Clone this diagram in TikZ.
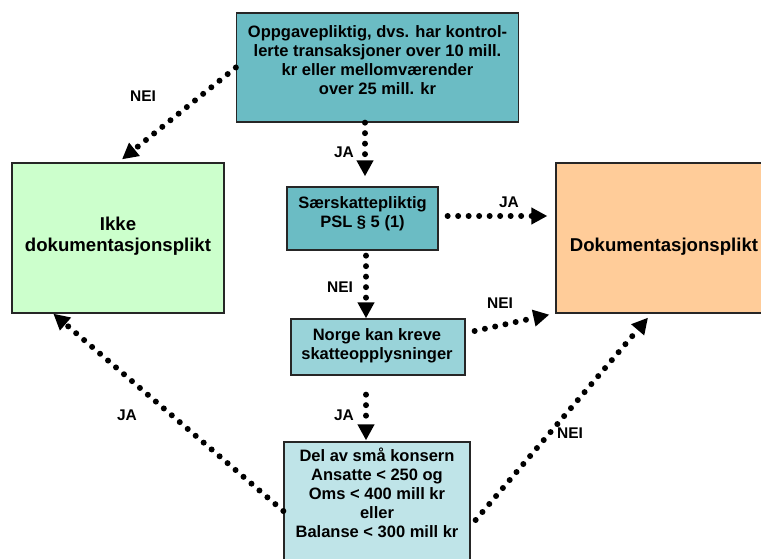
\documentclass[tikz,border=0pt]{standalone}
\usepackage{fontspec}
\setmainfont{Liberation Sans}
\usetikzlibrary{arrows.meta,calc}
\definecolor{tealA}{RGB}{107,188,196}
\definecolor{tealB}{RGB}{153,211,217}
\definecolor{tealC}{RGB}{191,228,232}
\definecolor{greenA}{RGB}{204,255,204}
\definecolor{orangeA}{RGB}{255,204,153}
\tikzset{
  box/.style={draw=black!85, line width=1.3pt, inner sep=0pt},
  txt/.style={font=\bfseries\fontsize{16.5}{19}\selectfont, align=center, inner sep=0pt},
  bigtxt/.style={font=\bfseries\fontsize{18.6}{21.5}\selectfont, align=center, inner sep=0pt},
  lbl/.style={font=\bfseries\fontsize{15.5}{17}\selectfont, inner sep=0pt},
  flow/.style={line width=6pt, line cap=round, dash pattern=on 0pt off 10.5pt,
    -{Triangle[length=16pt,width=16pt]}},
}
\begin{document}
\begin{tikzpicture}[x=1pt,y=-1pt]
\useasboundingbox (0,0) rectangle (761,559);
\clip (0,0) rectangle (761,559);
% boxes
\node[box, fill=tealA, minimum width=282pt, minimum height=109pt] (top) at (377.5,67.5) {};
\node[box, fill=greenA, minimum width=212pt, minimum height=150pt] (ikke) at (118,238) {};
\node[box, fill=orangeA, minimum width=216pt, minimum height=150pt] (dok) at (664,238) {};
\node[box, fill=tealA, minimum width=151pt, minimum height=63pt] (saer) at (362.5,218.5) {};
\node[box, fill=tealB, minimum width=174pt, minimum height=56pt] (norge) at (378,347) {};
\node[box, fill=tealC, minimum width=186pt, minimum height=130pt] (del) at (377,507) {};
% texts
\node[txt] (toptxt) at (377.5,60) {Oppgavepliktig, dvs. har kontrol-\\lerte transaksjoner over 10 mill.\\kr eller mellomværender\\over 25 mill. kr};
\node[bigtxt] (ikketxt) at (118,236) {Ikke\\dokumentasjonsplikt};
\node[bigtxt] (doktxt) at (664,247) {Dokumentasjonsplikt};
\node[txt] (saertxt) at (362.5,214) {Særskattepliktig\\PSL § 5 (1)};
\node[txt] (norgetxt) at (377,346) {Norge kan kreve\\skatteopplysninger};
\node[txt, anchor=north] (deltxt) at (377,448) {Del av små konsern\\Ansatte < 250 og\\Oms < 400 mill kr\\eller\\Balanse < 300 mill kr};
% connectors
\draw[flow] (top.west) -- ($(ikke.north)+(4,-3)$);
\draw[flow] ($(top.south)+(-12.5,0)$) -- ($(saer.north)+(2.5,-10)$);
\draw[flow] ($(saer.east)+(9,-2.5)$) -- ($(dok.west)+(-8,-22)$);
\draw[flow] ($(saer.south)+(3.5,5)$) -- ($(norge.north)+(-12,0)$);
\draw[flow] ($(norge.east)+(9,-16)$) -- ($(dok.south west)+(-6,1)$);
\draw[flow] ($(norge.south)+(-12,19)$) -- ($(del.north)+(-11,-1)$);
\draw[flow] ($(del.west)+(0,4)$) -- ($(ikke.south west)+(42,0)$);
\draw[flow] ($(del.east)+(5,13)$) -- ($(dok.south)+(-16,4)$);
% labels
\node[lbl] (l1) at (143,96) {NEI};
\node[lbl] (l2) at (344,152) {JA};
\node[lbl] (l3) at (509,202) {JA};
\node[lbl] (l4) at (340,287) {NEI};
\node[lbl] (l5) at (500,303) {NEI};
\node[lbl] (l6) at (344,415) {JA};
\node[lbl] (l7) at (127,415) {JA};
\node[lbl] (l8) at (570,433) {NEI};
\end{tikzpicture}
\end{document}
